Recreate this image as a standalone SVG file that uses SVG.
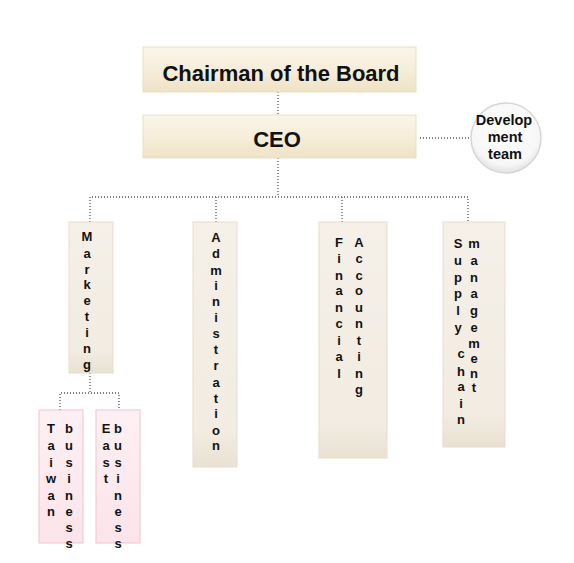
<svg xmlns="http://www.w3.org/2000/svg" width="574" height="563" viewBox="0 0 574 563">
<defs>
<linearGradient id="gTop" x1="0" y1="0" x2="0" y2="1">
<stop offset="0" stop-color="#fbf6ea"/>
<stop offset="0.6" stop-color="#f5ecd6"/>
<stop offset="1" stop-color="#eee2c6"/>
</linearGradient>
<linearGradient id="gVert" x1="0" y1="0" x2="0" y2="1">
<stop offset="0" stop-color="#f5f0e8"/>
<stop offset="0.85" stop-color="#f2ece2"/>
<stop offset="1" stop-color="#e9e2d2"/>
</linearGradient>
<linearGradient id="gPink" x1="0" y1="0" x2="0" y2="1">
<stop offset="0" stop-color="#fdf0f3"/>
<stop offset="1" stop-color="#fbe4ea"/>
</linearGradient>
<radialGradient id="gCircle" cx="0.5" cy="0.4" r="0.6">
<stop offset="0" stop-color="#ffffff"/>
<stop offset="0.8" stop-color="#f7f7f7"/>
<stop offset="1" stop-color="#e2e2e2"/>
</radialGradient>
</defs>
<style>
.top{fill:url(#gTop);stroke:#e9dfc8;stroke-width:1}
.vert{fill:url(#gVert);stroke:#e6ddd0;stroke-width:1}
.pink{fill:url(#gPink);stroke:#f0c4d0;stroke-width:1}
.circ{fill:url(#gCircle);stroke:#d6d6d6;stroke-width:1.5}
.big{font-family:"Liberation Sans",Arial,sans-serif;font-weight:bold;font-size:22px;fill:#111;text-anchor:middle}
.sm{font-family:"Liberation Sans",Arial,sans-serif;font-weight:bold;font-size:14.5px;fill:#111;text-anchor:middle}
.col{font-family:"Liberation Sans",Arial,sans-serif;font-weight:bold;font-size:13px;fill:#111;text-anchor:middle}
.dot{fill:none;stroke:#555;stroke-width:1.3;stroke-dasharray:1 2}
</style>
<g id="connectors">
<path class="dot" d="M278 92 V115"/>
<path class="dot" d="M278 158 V197"/>
<path class="dot" d="M420 138 H471"/>
<path class="dot" d="M90 222 V197 H468 V222"/>
<path class="dot" d="M216 197 V222"/>
<path class="dot" d="M342 197 V222"/>
<path class="dot" d="M90 373 V393"/>
<path class="dot" d="M60 410 V393 H119 V410"/>
</g>
<g id="chairman">
<rect class="top" x="143" y="47" width="273" height="45"/>
<text class="big" x="281" y="81">Chairman of the Board</text>
</g>
<g id="ceo">
<rect class="top" x="143" y="115" width="273" height="43"/>
<text class="big" x="277" y="147">CEO</text>
</g>
<g id="development-team">
<circle class="circ" cx="506" cy="138" r="35"/>
<text class="sm" x="504" y="125">Develop</text>
<text class="sm" x="505" y="142">ment</text>
<text class="sm" x="505" y="159">team</text>
</g>
<g id="marketing">
<rect class="vert" x="69" y="222" width="44" height="151"/>
<text class="col" x="87"><tspan x="87" y="241">M</tspan><tspan x="87" y="258">a</tspan><tspan x="87" y="274">r</tspan><tspan x="87" y="289">k</tspan><tspan x="87" y="305">e</tspan><tspan x="87" y="321">t</tspan><tspan x="87" y="337">i</tspan><tspan x="87" y="353">n</tspan><tspan x="87" y="369">g</tspan></text>
</g>
<g id="administration">
<rect class="vert" x="193" y="222" width="44" height="245"/>
<text class="col"><tspan x="216" y="242">A</tspan><tspan x="216" y="258">d</tspan><tspan x="216" y="275">m</tspan><tspan x="216" y="290">i</tspan><tspan x="216" y="306">n</tspan><tspan x="216" y="322">i</tspan><tspan x="216" y="338">s</tspan><tspan x="216" y="354">t</tspan><tspan x="216" y="370">r</tspan><tspan x="216" y="387">a</tspan><tspan x="216" y="403">t</tspan><tspan x="216" y="418">i</tspan><tspan x="216" y="435">o</tspan><tspan x="216" y="450">n</tspan></text>
</g>
<g id="financial-accounting">
<rect class="vert" x="319" y="222" width="68" height="236"/>
<text class="col"><tspan x="339" y="247">F</tspan><tspan x="339" y="263">i</tspan><tspan x="339" y="280">n</tspan><tspan x="339" y="295">a</tspan><tspan x="339" y="312">n</tspan><tspan x="339" y="328">c</tspan><tspan x="339" y="345">i</tspan><tspan x="339" y="361">a</tspan><tspan x="339" y="378">l</tspan></text>
<text class="col"><tspan x="359" y="247">A</tspan><tspan x="359" y="263">c</tspan><tspan x="359" y="280">c</tspan><tspan x="359" y="295">o</tspan><tspan x="359" y="312">u</tspan><tspan x="359" y="328">n</tspan><tspan x="359" y="345">t</tspan><tspan x="359" y="361">i</tspan><tspan x="359" y="378">n</tspan><tspan x="359" y="394">g</tspan></text>
</g>
<g id="supply-chain-management">
<rect class="vert" x="443" y="222" width="62" height="225"/>
<text class="col"><tspan x="458" y="248">S</tspan><tspan x="458" y="265">u</tspan><tspan x="458" y="282">p</tspan><tspan x="458" y="298">p</tspan><tspan x="458" y="315">l</tspan><tspan x="458" y="332">y</tspan><tspan x="461" y="358">c</tspan><tspan x="461" y="376">h</tspan><tspan x="461" y="391">a</tspan><tspan x="461" y="408">i</tspan><tspan x="461" y="424">n</tspan></text>
<text class="col"><tspan x="474" y="248">m</tspan><tspan x="474" y="265">a</tspan><tspan x="474" y="282">n</tspan><tspan x="474" y="298">a</tspan><tspan x="474" y="315">g</tspan><tspan x="474" y="332">e</tspan><tspan x="474" y="348">m</tspan><tspan x="474" y="363">e</tspan><tspan x="474" y="378">n</tspan><tspan x="474" y="392">t</tspan></text>
</g>
<g id="taiwan-business">
<rect class="pink" x="39" y="410" width="44" height="133"/>
<text class="col"><tspan x="51" y="433">T</tspan><tspan x="51" y="450">a</tspan><tspan x="51" y="467">i</tspan><tspan x="51" y="483">w</tspan><tspan x="51" y="500">a</tspan><tspan x="51" y="516">n</tspan></text>
<text class="col"><tspan x="69" y="433">b</tspan><tspan x="69" y="450">u</tspan><tspan x="69" y="467">s</tspan><tspan x="69" y="483">i</tspan><tspan x="69" y="500">n</tspan><tspan x="69" y="516">e</tspan><tspan x="69" y="532">s</tspan><tspan x="69" y="548">s</tspan></text>
</g>
<g id="east-business">
<rect class="pink" x="96" y="410" width="44" height="133"/>
<text class="col"><tspan x="106" y="433">E</tspan><tspan x="106" y="450">a</tspan><tspan x="106" y="467">s</tspan><tspan x="106" y="483">t</tspan></text>
<text class="col"><tspan x="118" y="433">b</tspan><tspan x="118" y="450">u</tspan><tspan x="118" y="467">s</tspan><tspan x="118" y="483">i</tspan><tspan x="118" y="500">n</tspan><tspan x="118" y="516">e</tspan><tspan x="118" y="532">s</tspan><tspan x="118" y="548">s</tspan></text>
</g>
</svg>
